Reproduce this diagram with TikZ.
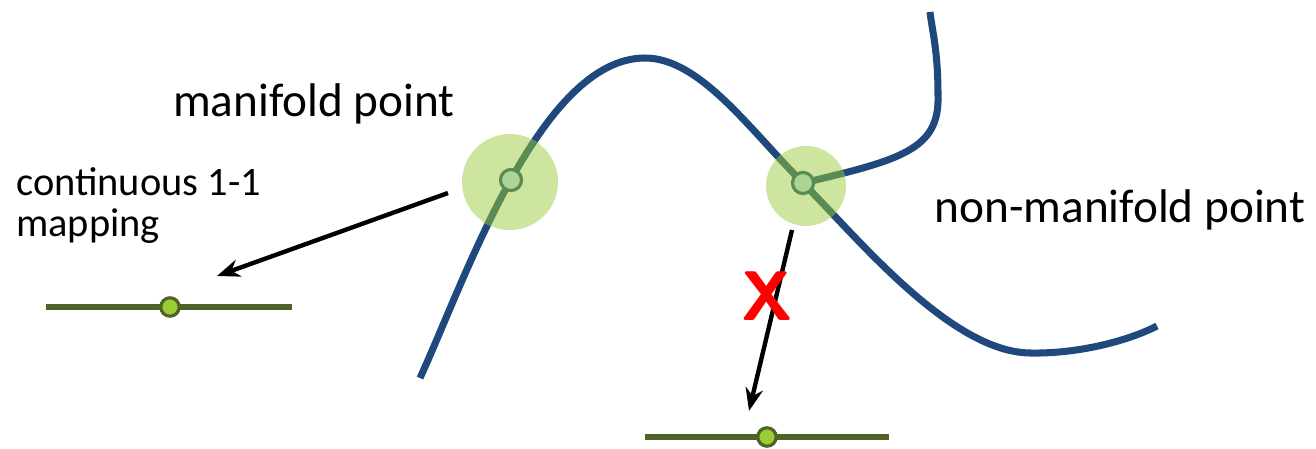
\documentclass[tikz,border=0pt]{standalone}
\usepackage{fontspec}
\setmainfont{Carlito}
\usetikzlibrary{positioning,arrows.meta,calc}
\definecolor{curveblue}{HTML}{1F497D}
\definecolor{halogreen}{HTML}{CDE59F}
\definecolor{segmentgreen}{HTML}{5B8B54}
\definecolor{pointfill}{HTML}{AED495}
\definecolor{chartolive}{HTML}{4F6228}
\definecolor{chartdot}{HTML}{9ACD32}

% the two curve pieces, in pixel coordinates
\newcommand{\curvemain}{(420,378) .. controls (465,280) and (540,58) .. (645,58)
  .. controls (700,58) and (750,130) .. (803,183)
  .. controls (856,236) and (950,352) .. (1030,353)
  .. controls (1080,354) and (1130,340) .. (1157,326)}
\newcommand{\curvebranch}{(803,183) .. controls (900,160) and (940,150) .. (938,95)
  .. controls (938,50) and (932,30) .. (930,12)}

\begin{document}
\begin{tikzpicture}[x=0.02cm,y=-0.02cm,
    curveline/.style={line width=4pt},
    halo/.style={fill=halogreen},
    onpoint/.style={circle, fill=pointfill, draw=segmentgreen, line width=1.8pt,
      minimum size=12pt, inner sep=0pt},
    maparrow/.style={-{Stealth[length=13pt,width=10pt]}, line width=2.5pt},
    chartline/.style={chartolive, line width=3.4pt},
    chartpoint/.style={circle, fill=chartdot, draw=chartolive, line width=1.8pt,
      minimum size=10.5pt, inner sep=0pt},
    bigtext/.style={font=\fontsize{26.9}{32}\selectfont, anchor=base, inner sep=0pt}]
  \useasboundingbox (0,0) rectangle (1316,449);

  % curve and the two neighbourhoods
  \draw[curveblue, curveline] \curvemain;
  \draw[curveblue, curveline] \curvebranch;
  \foreach \c/\r/\nm in {{(510,182)}/48/mhalo, {(806,186)}/40/nhalo} {
    \fill[halo] \c circle (\r);
    \begin{scope}
      \clip \c circle (\r);
      \draw[segmentgreen, curveline] \curvemain;
      \draw[segmentgreen, curveline] \curvebranch;
    \end{scope}
  }
  \node[onpoint] (mpoint) at (511,180) {};
  \node[onpoint] (npoint) at (803,183) {};

  % labels
  \node[bigtext] (mlabel) at (314,117) {manifold point};
  \node[bigtext] (nlabel) at (1120,223) {non-manifold point};
  \node[font=\fontsize{23}{23.8}\selectfont, align=left, anchor=base west, inner sep=0pt]
    (maptext) at (16,237) {continuous 1-1\\mapping};

  % the two 1D charts
  \coordinate (lchartA) at (46,307);
  \coordinate (lchartB) at (292,307);
  \coordinate (bchartA) at (645,437);
  \coordinate (bchartB) at (889,437);
  \draw[chartline] (lchartA) -- (lchartB);
  \draw[chartline] (bchartA) -- (bchartB);
  \node[chartpoint] (ldot) at (170,307) {};
  \node[chartpoint] (bdot) at (767,437) {};

  % mappings
  \coordinate (mstart) at (448,193);
  \coordinate (mend) at (217,276);
  \coordinate (nstart) at (792,230);
  \coordinate (nend) at (749,411);
  \draw[maparrow] (mstart) -- (mend);
  \draw[maparrow] (nstart) -- (nend);
  \node[text=red, font=\fontsize{40}{40}\selectfont\bfseries\sffamily, inner sep=0pt]
    (cross) at (767,296) {X};
\end{tikzpicture}
\end{document}
